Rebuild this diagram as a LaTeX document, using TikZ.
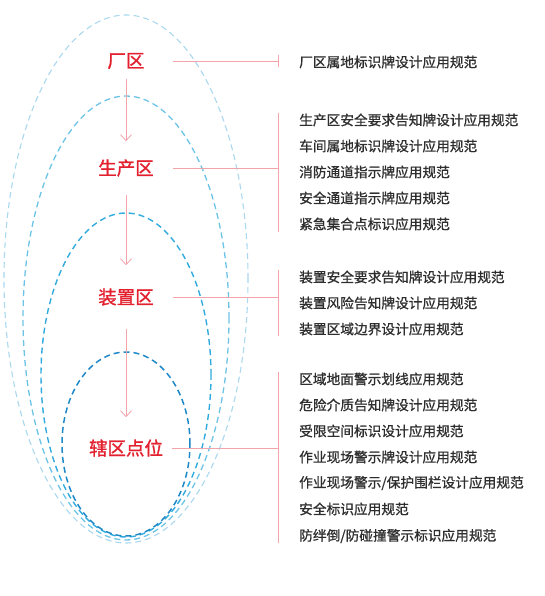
\documentclass[tikz,border=0pt]{standalone}
\usepackage{fontspec}
\newfontfamily\cjk{Noto Sans CJK SC}[FakeBold=0.9]
\newfontfamily\cjkzone{Noto Sans CJK SC}[FakeBold=1.2]
\usepackage{xcolor}
\usetikzlibrary{arrows.meta}
\definecolor{zonered}{HTML}{E2202E}
\definecolor{linkpink}{HTML}{F3A3AA}
\definecolor{ringA}{HTML}{A9D8EF}
\definecolor{ringB}{HTML}{6CC3E6}
\definecolor{ringC}{HTML}{31ABDD}
\definecolor{ringD}{HTML}{1F89C8}
\definecolor{normtext}{HTML}{2E2E2E}

\begin{document}
\begin{tikzpicture}[
  x=1pt,y=-1pt, % one unit is one pixel of the picture, y runs down
  >={Straight Barb[length=6pt,width=11pt]}, % open arrow head
  ring/.style={dashed,dash pattern=on 6pt off 4pt}, % style of the dashed zones
  zone node/.style={inner sep=0pt,text=zonered,font=\cjkzone\fontsize{18.5}{20}\selectfont}, % style of the zone names
  norm node/.style={anchor=west,inner sep=0pt,text=normtext,font=\cjk\fontsize{13.7}{16}\selectfont}, % style of the standards
  flow/.style={->,draw=linkpink,line width=0.8pt}, % arrow between zones
  branch/.style={draw=linkpink,line width=0.8pt} % lines to the lists
  ]
  \useasboundingbox (0,0) rectangle (545,596);

  % dashed zones
  \draw[ring,ringA,line width=1.1pt] (126,279) ellipse [x radius=122pt,y radius=264pt];
  \draw[ring,ringB,line width=1.3pt] (126,318) ellipse [x radius=103pt,y radius=222pt];
  \draw[ring,ringC,line width=1.4pt] (126,375) ellipse [x radius=85pt,y radius=162pt];
  \draw[ring,ringD,line width=1.5pt] (126,444) ellipse [x radius=64pt,y radius=92pt];

  % zone names
  \node[zone node] (cq) at (126,61) {厂区};
  \node[zone node] (scq) at (126,168) {生产区};
  \node[zone node] (zzq) at (126,297) {装置区};
  \node[zone node] (xqdw) at (126,448) {辖区点位};

  \path
    (cq) edge[flow,shorten <=10pt,shorten >=18pt] (scq)
    (scq) edge[flow,shorten <=18pt,shorten >=23pt] (zzq)
    (zzq) edge[flow,shorten <=23pt,shorten >=22pt] (xqdw);

  % brackets
  \coordinate (cq-top) at (278,55);
  \coordinate (cq-bot) at (278,67);
  \coordinate (scq-top) at (278,113);
  \coordinate (scq-bot) at (278,232);
  \coordinate (zzq-top) at (278,270);
  \coordinate (zzq-bot) at (278,336);
  \coordinate (xqdw-top) at (278,372);
  \coordinate (xqdw-bot) at (278,543);

  \draw[branch] (cq-top) -- (cq-bot);
  \draw[branch] (scq-top) -- (scq-bot);
  \draw[branch] (zzq-top) -- (zzq-bot);
  \draw[branch] (xqdw-top) -- (xqdw-bot);

  \draw[branch,shorten <=28pt] (cq.east) -- (cq -| cq-top);
  \draw[branch,shorten <=19pt] (scq.east) -- (scq -| scq-top);
  \draw[branch,shorten <=19pt] (zzq.east) -- (zzq -| zzq-top);
  \draw[branch,shorten <=9pt] (xqdw.east) -- (xqdw -| xqdw-top);

  % standards
  \node[norm node] (n11) at (299,62) {厂区属地标识牌设计应用规范};

  \node[norm node] (n21) at (299,120) {生产区安全要求告知牌设计应用规范};
  \node[norm node] (n22) at (299,146) {车间属地标识牌设计应用规范};
  \node[norm node] (n23) at (299,172) {消防通道指示牌应用规范};
  \node[norm node] (n24) at (299,198) {安全通道指示牌应用规范};
  \node[norm node] (n25) at (299,224) {紧急集合点标识应用规范};

  \node[norm node] (n31) at (299,277) {装置安全要求告知牌设计应用规范};
  \node[norm node] (n32) at (299,303) {装置风险告知牌设计应用规范};
  \node[norm node] (n33) at (299,329) {装置区域边界设计应用规范};

  \node[norm node] (n41) at (299,379) {区域地面警示划线应用规范};
  \node[norm node] (n42) at (299,405) {危险介质告知牌设计应用规范};
  \node[norm node] (n43) at (299,431) {受限空间标识设计应用规范};
  \node[norm node] (n44) at (299,457) {作业现场警示牌设计应用规范};
  \node[norm node] (n45) at (299,483) {作业现场警示/保护围栏设计应用规范};
  \node[norm node] (n46) at (299,509) {安全标识应用规范};
  \node[norm node] (n47) at (299,536) {防绊倒/防碰撞警示标识应用规范};
\end{tikzpicture}
\end{document}
